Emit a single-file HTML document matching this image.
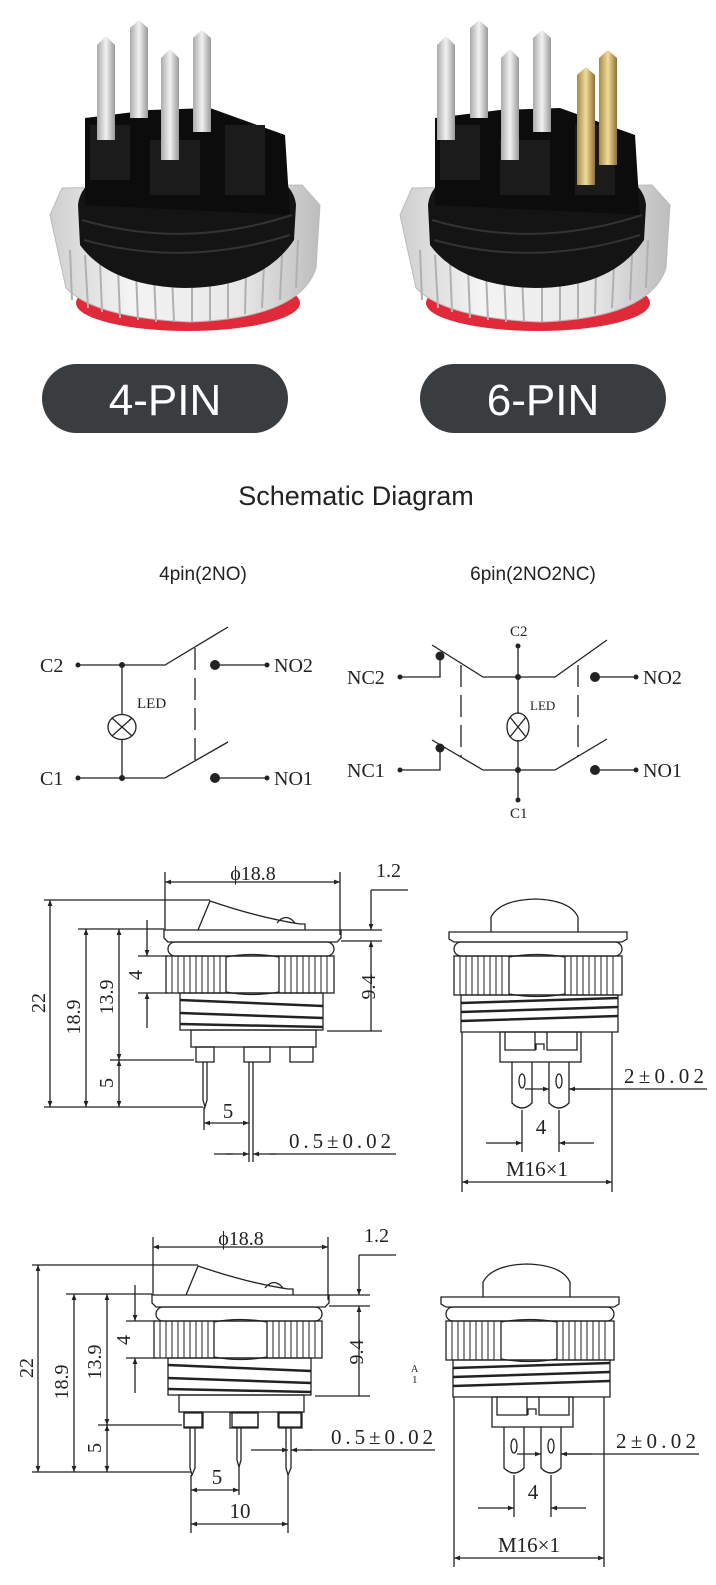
<!DOCTYPE html>
<html><head><meta charset="utf-8"><style>
html,body{margin:0;padding:0;background:#fff;}
body{width:716px;height:1585px;overflow:hidden;}
svg{display:block;}
.d{stroke:#222;stroke-width:1.3;fill:none;}
.t{font-family:"Liberation Serif",serif;fill:#222;}
</style></head><body>
<svg width="716" height="1585" viewBox="0 0 716 1585" xmlns="http://www.w3.org/2000/svg">
<defs>
<marker id="a" viewBox="0 0 10 10" refX="10" refY="5" markerWidth="9" markerHeight="6" orient="auto-start-reverse" markerUnits="userSpaceOnUse"><path d="M0,1 L10,5 L0,9Z" fill="#222"/></marker>
<linearGradient id="sil" x1="0" x2="1"><stop offset="0" stop-color="#cfcfcf"/><stop offset=".3" stop-color="#f4f4f4"/><stop offset=".7" stop-color="#e8e8e8"/><stop offset="1" stop-color="#bdbdbd"/></linearGradient>
<linearGradient id="pin" x1="0" x2="1"><stop offset="0" stop-color="#aaa"/><stop offset=".5" stop-color="#f2f2f2"/><stop offset="1" stop-color="#999"/></linearGradient>
<linearGradient id="gold" x1="0" x2="1"><stop offset="0" stop-color="#a88a45"/><stop offset=".5" stop-color="#f1dc9c"/><stop offset="1" stop-color="#8c7034"/></linearGradient>

<g id="prod">
 <ellipse cx="188" cy="303" rx="112" ry="28" fill="#e02a3a"/>
 <path d="M50,215 L62,188 L302,185 L320,205 L316,268 Q300,318 190,322 Q95,318 66,288 Z" fill="url(#sil)" stroke="#bbb"/>
 <g stroke="#b0b0b0" stroke-width="2">
  <path d="M70,250 L72,300 M85,255 L88,308 M100,262 L102,312 M118,268 L120,318 M136,272 L138,320 M154,274 L156,322 M172,276 L174,322 M192,276 L192,322 M210,276 L210,321 M228,274 L228,318 M246,270 L245,314 M264,264 L262,308 M282,255 L280,300 M298,240 L296,288"/>
 </g>
 <path d="M78,205 Q82,163 185,158 Q292,163 296,205 L294,240 Q262,288 185,288 Q110,286 80,245Z" fill="#141414"/>
 <path d="M82,220 Q185,250 292,215 M84,240 Q185,268 290,235" stroke="#333" stroke-width="2" fill="none"/>
 <path d="M85,118 L150,110 L210,108 L285,135 L290,215 L85,205 Z" fill="#0c0c0c"/>
 <rect x="90" y="125" width="40" height="55" fill="#1b1b1b"/>
 <rect x="150" y="140" width="50" height="55" fill="#1b1b1b"/>
 <rect x="225" y="125" width="40" height="70" fill="#1b1b1b"/>
</g>
<g id="pins4">
 <path d="M97,45 L106,36 L115,45 L115,140 L97,140Z" fill="url(#pin)"/>
 <path d="M130,28 L139,20 L148,28 L148,118 L130,118Z" fill="url(#pin)"/>
 <path d="M161,58 L170,49 L179,58 L179,160 L161,160Z" fill="url(#pin)"/>
 <path d="M193,38 L202,30 L211,38 L211,132 L193,132Z" fill="url(#pin)"/>
</g>

<g id="BL" class="d">
 <path d="M164,930 L341,930 L341,938 L337,942 L168,942 L164,938Z"/>
 <path d="M198,930 L210,901 Q260,918 300,924 L305,924 L305,930"/>
 <path d="M277,923 Q286,912 295,923"/>
 <rect x="168" y="942" width="166" height="14" rx="7"/>
 <rect x="166" y="956" width="168" height="37"/>
 <path d="M226,957 Q252,952 279,957 L279,992 Q252,997 226,992Z"/>
 <path d="M172,956v37M178,956v37M184,956v37M190,956v37M196,956v37M202,956v37M208,956v37M214,956v37M220,956v37M285,956v37M291,956v37M297,956v37M303,956v37M309,956v37M315,956v37M321,956v37M327,956v37" stroke-width="1"/>
 <rect x="180" y="993" width="143" height="37"/>
 <path d="M180,1000 L323,1006 M180,1013 L323,1018 M180,1024 L323,1027" stroke-width="2.5"/>
 <rect x="191" y="1030" width="125" height="17"/>
 <rect x="196" y="1047" width="18" height="15"/>
 <rect x="244" y="1047" width="26" height="15"/>
 <rect x="290" y="1047" width="23" height="15"/>
</g>
<g id="DL">
 <g class="d">
  <line x1="165" y1="882" x2="340" y2="882" marker-start="url(#a)" marker-end="url(#a)"/>
  <path d="M165,872V930 M340,872V935"/>
  <path d="M408,890H371"/>
  <line x1="371" y1="890" x2="371" y2="930" marker-end="url(#a)"/>
  <path d="M341,930H382 M341,941H382 M327,1031H382"/>
  <line x1="371" y1="1031" x2="371" y2="941" marker-end="url(#a)"/>
  <path d="M44,900H210 M78,929H164 M110,1060H194 M138,956H168 M138,993H168 M44,1107H203"/>
  <line x1="50" y1="900" x2="50" y2="1107" marker-start="url(#a)" marker-end="url(#a)"/>
  <line x1="86" y1="929" x2="86" y2="1107" marker-start="url(#a)" marker-end="url(#a)"/>
  <line x1="119" y1="929" x2="119" y2="1060" marker-start="url(#a)" marker-end="url(#a)"/>
  <line x1="119" y1="1060" x2="119" y2="1107" marker-start="url(#a)" marker-end="url(#a)"/>
  <line x1="147" y1="920" x2="147" y2="956" marker-end="url(#a)"/>
  <line x1="147" y1="1028" x2="147" y2="993" marker-end="url(#a)"/>
 </g>
 <g class="t" font-size="20">
  <text x="253" y="880" text-anchor="middle">ϕ18.8</text>
  <text x="376" y="877">1.2</text>
  <text transform="translate(375,987) rotate(-90)" text-anchor="middle">9.4</text>
  <text transform="translate(45,1003) rotate(-90)" text-anchor="middle">22</text>
  <text transform="translate(80,1017) rotate(-90)" text-anchor="middle">18.9</text>
  <text transform="translate(113,997) rotate(-90)" text-anchor="middle">13.9</text>
  <text transform="translate(142,975) rotate(-90)" text-anchor="middle">4</text>
  <text transform="translate(113,1083) rotate(-90)" text-anchor="middle">5</text>
 </g>
</g>
<g id="BR">
 <g class="d">
  <path d="M491,932 L491,917 Q500,900 535,899 Q570,900 578,917 L578,932"/>
  <path d="M449,932 L627,932 L627,939 L622,942 L454,942 L449,939Z"/>
  <rect x="454" y="942" width="168" height="14" rx="7"/>
  <rect x="454" y="956" width="168" height="39"/>
  <path d="M509,957 Q537,952 565,957 L565,994 Q537,999 509,994Z"/>
  <path d="M460,956v39M466,956v39M472,956v39M478,956v39M484,956v39M490,956v39M496,956v39M502,956v39M571,956v39M577,956v39M583,956v39M589,956v39M595,956v39M601,956v39M607,956v39M613,956v39" stroke-width="1"/>
  <path d="M461,995 L618,995 L618,1032 L461,1032Z"/>
  <path d="M461,1003 L618,998 M461,1012 L618,1007 M461,1021 L618,1016" stroke-width="2.5"/>
  <rect x="500" y="1032" width="81" height="30"/>
  <path d="M505,1032V1050H535V1032 M547,1032V1050H577V1032 M536,1050v-6h8v6"/>
  <path d="M512,1062 V1103 Q522,1113 532,1103 V1062"/>
  <path d="M549,1062 V1103 Q559,1113 569,1103 V1062"/>
  <ellipse cx="522" cy="1081" rx="3" ry="7"/>
  <ellipse cx="559" cy="1081" rx="3" ry="7"/>
  <path d="M707,1089H569"/>
  <line x1="600" y1="1089" x2="569" y2="1089" marker-end="url(#a)"/>
  <line x1="525" y1="1089" x2="549" y2="1089" marker-end="url(#a)"/>
  <path d="M522,1110V1152 M559,1110V1152"/>
  <line x1="486" y1="1143" x2="522" y2="1143" marker-end="url(#a)"/>
  <line x1="594" y1="1143" x2="559" y2="1143" marker-end="url(#a)"/>
 </g>
 <g class="t" font-size="21">
  <text x="624" y="1083" textLength="80">2±0.02</text>
  <text x="541" y="1134" text-anchor="middle">4</text>
 </g>
</g>
</defs>

<use href="#prod"/>
<use href="#pins4"/>
<use href="#prod" x="350"/>
<g transform="translate(340,0)">
 <path d="M97,45 L106,36 L115,45 L115,140 L97,140Z" fill="url(#pin)"/>
 <path d="M130,28 L139,20 L148,28 L148,118 L130,118Z" fill="url(#pin)"/>
 <path d="M161,58 L170,49 L179,58 L179,160 L161,160Z" fill="url(#pin)"/>
 <path d="M193,38 L202,30 L211,38 L211,132 L193,132Z" fill="url(#pin)"/>
</g>
<path d="M577,75 L586,67 L595,75 L595,185 L577,185Z" fill="url(#gold)"/>
<path d="M599,58 L608,50 L617,58 L617,165 L599,165Z" fill="url(#gold)"/>

<rect x="42" y="364" width="246" height="69" rx="34.5" fill="#3a3d40"/>
<rect x="420" y="364" width="246" height="69" rx="34.5" fill="#3a3d40"/>
<text x="165" y="415" font-family="Liberation Sans,sans-serif" font-size="44" fill="#fff" text-anchor="middle">4-PIN</text>
<text x="543" y="415" font-family="Liberation Sans,sans-serif" font-size="44" fill="#fff" text-anchor="middle">6-PIN</text>

<text x="356" y="505" font-family="Liberation Sans,sans-serif" font-size="27" fill="#222" text-anchor="middle">Schematic Diagram</text>
<text x="203" y="580" font-family="Liberation Sans,sans-serif" font-size="19" fill="#222" text-anchor="middle">4pin(2NO)</text>
<text x="533" y="580" font-family="Liberation Sans,sans-serif" font-size="19" fill="#222" text-anchor="middle">6pin(2NO2NC)</text>

<g class="d" stroke-width="1.4">
 <path d="M78,665H165L228,627 M78,778H165L228,742 M122,665V715 M122,740V778"/>
 <ellipse cx="122" cy="727" rx="14" ry="12.5"/>
 <path d="M112,718L132,736M132,718L112,736"/>
 <path d="M195,648V760" stroke-dasharray="22,8"/>
 <path d="M215,665H267 M215,778H267"/>
</g>
<g fill="#222"><circle cx="78" cy="665" r="2.5"/><circle cx="122" cy="665" r="3"/><circle cx="122" cy="778" r="3"/><circle cx="78" cy="778" r="2.5"/>
<circle cx="215" cy="665" r="5"/><circle cx="215" cy="778" r="5"/><circle cx="267" cy="665" r="2.5"/><circle cx="267" cy="778" r="2.5"/></g>
<g class="t" font-size="20">
 <text x="40" y="672">C2</text><text x="40" y="785">C1</text>
 <text x="274" y="672">NO2</text><text x="274" y="785">NO1</text>
 <text x="137" y="708" font-size="15">LED</text>
</g>
<g class="d" stroke-width="1.4">
 <path d="M518,646V714 M518,740V800 M432,645L483,677H555L607,640 M432,740L483,770H555L607,739"/>
 <path d="M400,677H440V656 M400,770H440V748"/>
 <ellipse cx="518" cy="727" rx="11" ry="14"/>
 <path d="M510,717L526,737M526,717L510,737"/>
 <path d="M461,665V757 M578,665V757" stroke-dasharray="22,8"/>
 <path d="M595,677H636 M595,770H636"/>
</g>
<g fill="#222"><circle cx="518" cy="646" r="2.5"/><circle cx="518" cy="800" r="2.5"/><circle cx="518" cy="677" r="3"/><circle cx="518" cy="770" r="3"/>
<circle cx="440" cy="656" r="4.5"/><circle cx="440" cy="748" r="4.5"/><circle cx="400" cy="677" r="2.5"/><circle cx="400" cy="770" r="2.5"/>
<circle cx="595" cy="677" r="5"/><circle cx="595" cy="770" r="5"/><circle cx="636" cy="677" r="2.5"/><circle cx="636" cy="770" r="2.5"/></g>
<g class="t" font-size="20">
 <text x="510" y="636" font-size="15">C2</text><text x="510" y="818" font-size="15">C1</text>
 <text x="347" y="684">NC2</text><text x="347" y="777">NC1</text>
 <text x="643" y="684">NO2</text><text x="643" y="777">NO1</text>
 <text x="530" y="710" font-size="13">LED</text>
</g>

<use href="#BL"/><use href="#DL"/><use href="#BR"/>
<g class="d">
 <path d="M203,1062V1100L205,1107L207,1100V1062 M249,1062V1162 M253,1062V1162"/>
 <path d="M204,1107V1130"/>
 <line x1="204" y1="1123" x2="249" y2="1123" marker-start="url(#a)" marker-end="url(#a)"/>
 <path d="M214,1154H233 M270,1154H396"/>
 <line x1="226" y1="1154" x2="249" y2="1154" marker-end="url(#a)"/>
 <line x1="276" y1="1154" x2="253" y2="1154" marker-end="url(#a)"/>
 <path d="M462,1032V1192 M612,1032V1192"/>
 <line x1="462" y1="1182" x2="612" y2="1182" marker-start="url(#a)" marker-end="url(#a)"/>
</g>
<g class="t" font-size="21">
 <text x="228" y="1118" text-anchor="middle">5</text>
 <text x="289" y="1148" textLength="102">0.5±0.02</text>
 <text x="537" y="1176" text-anchor="middle">M16×1</text>
</g>

<g transform="translate(-12,365)"><use href="#BL"/><use href="#DL"/></g>
<use href="#BR" transform="translate(-8,365)"/>
<g class="d">
 <path d="M184,1413h19v15h-19z M230,1413h28v15h-28z M279,1413h23v15h-23z" />
 <path d="M190,1428V1468L192,1475L195,1468V1428 M237,1428V1460L239,1467L241,1460V1428 M286,1428V1468L288,1475L291,1468V1428"/>
 <path d="M191,1475V1533 M239,1467V1495 M288,1475V1533"/>
 <line x1="191" y1="1490" x2="239" y2="1490" marker-start="url(#a)" marker-end="url(#a)"/>
 <line x1="191" y1="1524" x2="288" y2="1524" marker-start="url(#a)" marker-end="url(#a)"/>
 <path d="M251,1450H266 M305,1450H435"/>
 <line x1="266" y1="1450" x2="288" y2="1450" marker-end="url(#a)"/>
 <line x1="312" y1="1450" x2="291" y2="1450" marker-end="url(#a)"/>
 <path d="M454,1397V1567 M604,1397V1567"/>
 <line x1="454" y1="1558" x2="604" y2="1558" marker-start="url(#a)" marker-end="url(#a)"/>
</g>
<g class="t" font-size="21">
 <text x="217" y="1484" text-anchor="middle">5</text>
 <text x="240" y="1518" text-anchor="middle">10</text>
 <text x="331" y="1444" textLength="102">0.5±0.02</text>
 <text x="529" y="1552" text-anchor="middle">M16×1</text>
 <text x="411" y="1372" font-size="10">A</text><text x="412" y="1383" font-size="11">1</text>
</g>
</svg>
</body></html>
